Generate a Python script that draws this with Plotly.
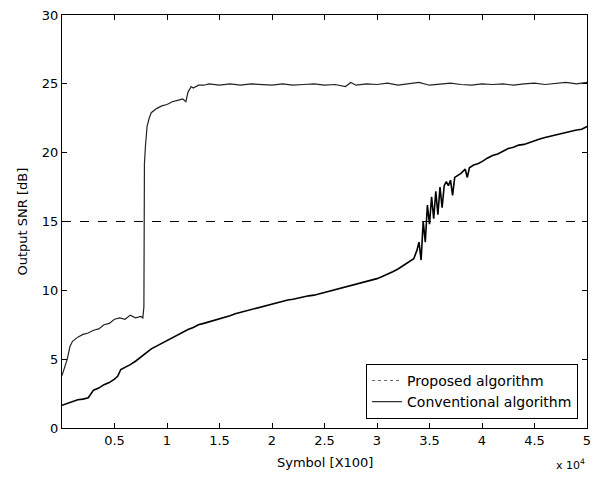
import plotly.graph_objects as go

# ---- data ----
prop_x = [0, 250, 500, 750, 1000, 1500, 2000, 2500, 3000, 3500, 4000, 4500, 5000, 5500,
          6000, 6500, 7000, 7500, 7700, 7800, 7820, 7850, 7950, 8100, 8300, 8500, 9000,
          9500, 10000, 10500, 11000, 11500, 11800, 12000, 12300, 12500, 13000, 13500,
          14000, 15000, 16000, 17000, 18000, 19000, 20000, 21000, 22000, 23000, 24000,
          25000, 26000, 27000, 27500, 28000, 29000, 30000, 31000, 32000, 33000, 34000,
          35000, 36000, 37000, 38000, 39000, 40000, 41000, 42000, 43000, 44000, 45000,
          46000, 47000, 48000, 49000, 50000]
prop_y = [3.8, 4.4, 5.0, 5.9, 6.3, 6.6, 6.8, 6.9, 7.1, 7.2, 7.5, 7.6, 7.9, 8.0,
          7.9, 8.2, 8.0, 8.1, 8.0, 8.8, 14.0, 19.2, 20.5, 21.9, 22.5, 22.9, 23.2,
          23.4, 23.5, 23.7, 23.8, 23.9, 23.7, 24.4, 24.8, 24.7, 24.9, 24.9,
          25.0, 24.9, 25.0, 24.9, 25.0, 24.95, 24.9, 25.0, 24.9, 24.95, 25.0,
          24.9, 24.95, 24.8, 25.1, 24.9, 25.0, 24.95, 25.05, 24.9, 25.0, 25.1,
          24.9, 25.0, 25.05, 24.95, 24.9, 25.0, 24.95, 25.0, 24.9, 25.0, 25.05,
          24.95, 25.0, 25.1, 25.0, 25.1]

conv_x = [0, 500, 1000, 1500, 2000, 2500, 3000, 3500, 4000, 4500, 5000, 5300, 5600, 6000,
          6500, 7000, 7500, 8000, 8500, 9000, 9500, 10000, 10500, 11000, 11500, 12000,
          12500, 13000, 13500, 14000, 14500, 15000, 15500, 16000, 16500, 17000, 17500,
          18000, 18500, 19000, 19500, 20000, 20500, 21000, 21500, 22000, 22500, 23000,
          23500, 24000, 24500, 25000, 25500, 26000, 26500, 27000, 27500, 28000, 28500,
          29000, 29500, 30000, 30500, 31000, 31500, 32000, 32500, 33000, 33500, 33800,
          34000, 34200, 34400, 34600, 34800, 35000, 35200, 35400, 35600, 35800, 36000,
          36200, 36400, 36600, 36800, 37000, 37200, 37400, 37600, 38000, 38400, 38600,
          38800, 39200, 39600, 40000, 40500, 41000, 41500, 42000, 42500, 43000, 43500,
          44000, 44500, 45000, 45500, 46000, 46500, 47000, 47500, 48000, 48500, 49000,
          49500, 50000]
conv_y = [1.65, 1.8, 1.95, 2.05, 2.1, 2.2, 2.75, 2.9, 3.15, 3.3, 3.55, 3.75, 4.25, 4.4,
          4.6, 4.85, 5.15, 5.5, 5.75, 5.95, 6.15, 6.35, 6.6, 6.75, 7.0, 7.15,
          7.3, 7.5, 7.6, 7.7, 7.8, 7.95, 8.05, 8.15, 8.3, 8.4, 8.5,
          8.65, 8.75, 8.85, 8.95, 9.0, 9.1, 9.2, 9.3, 9.35, 9.45, 9.5,
          9.6, 9.65, 9.75, 9.85, 9.9, 10.0, 10.1, 10.2, 10.3, 10.4, 10.55,
          10.65, 10.75, 10.85, 11.0, 11.15, 11.35, 11.55, 11.8, 12.0, 12.3, 12.9,
          13.5, 12.2, 15.0, 13.5, 16.2, 14.8, 16.8, 15.2, 17.2, 15.5, 17.5,
          16.0, 17.6, 17.9, 17.6, 18.0, 16.9, 18.2, 18.3, 18.5, 18.8, 18.2,
          18.9, 19.1, 19.2, 19.35, 19.6, 19.8, 19.9, 20.1, 20.3, 20.4, 20.55,
          20.6, 20.75, 20.85, 21.0, 21.1, 21.2, 21.3, 21.35, 21.5, 21.6, 21.65,
          21.7, 21.9]

threshold = 15
x_tickvals = [5000, 10000, 15000, 20000, 25000, 30000, 35000, 40000, 45000, 50000]
x_ticktext = ["0.5", "1", "1.5", "2", "2.5", "3", "3.5", "4", "4.5", "5"]
y_tickvals = [0, 5, 10, 15, 20, 25, 30]

FONT = "DejaVu Sans, Verdana, sans-serif"

fig = go.Figure()
fig.add_trace(go.Scatter(x=prop_x, y=prop_y, mode="lines", showlegend=False,
                         line=dict(color="#222222", width=1.2)))
fig.add_trace(go.Scatter(x=conv_x, y=conv_y, mode="lines", showlegend=False,
                         line=dict(color="black", width=1.6)))
# legend entries
fig.add_trace(go.Scatter(x=[None], y=[None], mode="lines", name="Proposed algorithm",
                         line=dict(color="#666666", width=1, dash="dot")))
fig.add_trace(go.Scatter(x=[None], y=[None], mode="lines", name="Conventional algorithm",
                         line=dict(color="black", width=1)))

fig.add_shape(type="line", xref="paper", x0=0, x1=1, yref="y", y0=threshold, y1=threshold,
              line=dict(color="black", width=1, dash="dash"))

axis_common = dict(showgrid=False, zeroline=False, showline=True, linecolor="black",
                   linewidth=1, mirror="ticks", ticks="inside", ticklen=5,
                   tickcolor="black", automargin=False,
                   tickfont=dict(family=FONT, size=13, color="black"))

fig.update_xaxes(range=[0, 50000], tickvals=x_tickvals, ticktext=x_ticktext, **axis_common)
fig.update_yaxes(range=[0, 30], tickvals=y_tickvals, **axis_common)

fig.add_annotation(text="Symbol [X100]", xref="paper", yref="paper", x=0.5, y=-0.06,
                   xanchor="center", yanchor="top", showarrow=False,
                   font=dict(family=FONT, size=13, color="black"))
fig.add_annotation(text="Output SNR [dB]", xref="paper", yref="paper", x=-0.0743, y=0.5,
                   xanchor="center", yanchor="middle", textangle=-90, showarrow=False,
                   font=dict(family=FONT, size=13, color="black"))
fig.add_annotation(text="x 10<sup>4</sup>", xref="paper", yref="paper", x=1.0, y=-0.065,
                   xanchor="right", yanchor="top", showarrow=False,
                   font=dict(family=FONT, size=11, color="black"))

fig.update_layout(
    width=599, height=477,
    margin=dict(l=62, r=12, t=15, b=49),
    plot_bgcolor="white", paper_bgcolor="white",
    legend=dict(x=0.983, y=0.022, xanchor="right", yanchor="bottom",
                bgcolor="white", bordercolor="black", borderwidth=1,
                font=dict(family=FONT, size=14, color="black"),
                tracegroupgap=0, itemwidth=30),
)

fig.write_html("out.html", config={"displayModeBar": False},
               post_script="document.body.style.margin='0';document.body.style.overflow='hidden';")
